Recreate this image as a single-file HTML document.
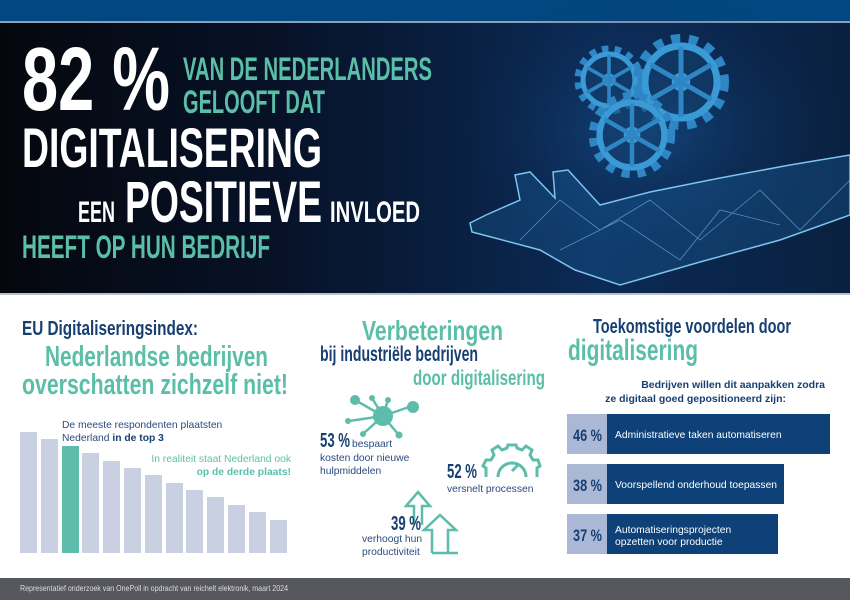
<!DOCTYPE html>
<html><head><meta charset="utf-8"><style>
html,body{margin:0;padding:0;background:#fff;}
svg{display:block;}
</style></head><body>
<svg width="850" height="600" viewBox="0 0 850 600" xmlns="http://www.w3.org/2000/svg" font-family="Liberation Sans, sans-serif">
<defs>
<linearGradient id="bg" x1="0" y1="0" x2="1" y2="0">
<stop offset="0" stop-color="#05070d"/><stop offset="0.35" stop-color="#07132a"/><stop offset="0.7" stop-color="#0b2a55"/><stop offset="1" stop-color="#0a2040"/>
</linearGradient>
<radialGradient id="glow" cx="0.5" cy="0.5" r="0.5">
<stop offset="0" stop-color="#1a5fa0" stop-opacity="0.5"/><stop offset="1" stop-color="#0b2a55" stop-opacity="0"/>
</radialGradient>
<g id="gear">
<circle r="0.8" fill="#14406e" fill-opacity="0.5"/>
<circle r="0.86" fill="none" stroke="#2f86c4" stroke-width="0.2" stroke-dasharray="0.18 0.17"/>
<circle r="0.72" fill="none" stroke="#3a9ad6" stroke-width="0.14"/>
<circle r="0.14" fill="none" stroke="#3a9ad6" stroke-width="0.09"/>
<g stroke="#2f86c4" stroke-width="0.1">
<line x1="0" y1="-0.7" x2="0" y2="0.7"/><line x1="-0.61" y1="-0.35" x2="0.61" y2="0.35"/><line x1="-0.61" y1="0.35" x2="0.61" y2="-0.35"/>
</g>
</g>
</defs>
<rect x="0" y="0" width="850" height="21" fill="#02477f"/>
<rect x="0" y="21" width="850" height="2" fill="#8aa0b8"/>
<rect x="0" y="23" width="850" height="271" fill="url(#bg)"/>
<ellipse cx="650" cy="130" rx="200" ry="140" fill="url(#glow)"/>
<use href="#gear" transform="translate(609,80) scale(36)"/>
<use href="#gear" transform="translate(681,82) scale(50)"/>
<use href="#gear" transform="translate(632,135) scale(45)"/>
<path d="M470,223 L486,215 L520,200 L515,175 L530,172 L555,198 L553,172 L568,170 L600,205 L650,192 L720,178 L790,165 L850,155 L850,215 L780,240 L700,262 L620,285 L575,270 L540,250 L495,238 L472,232 Z" fill="#1d6aa8" fill-opacity="0.3" stroke="#7cc4ee" stroke-width="1.5"/>
<path d="M520,240 L560,200 L600,230 L650,200 L700,240 L760,190 L800,230 L850,180 M560,250 L620,220 L680,260 L720,210 L780,225" fill="none" stroke="#7cc8f0" stroke-width="0.8" stroke-opacity="0.6"/>
<rect x="0" y="293" width="850" height="2" fill="#b8c0cc"/>

<g font-weight="bold">
<text x="22" y="110" font-size="90" fill="#fff" textLength="148" lengthAdjust="spacingAndGlyphs">82 %</text>
<text x="183" y="80" font-size="32" fill="#5bbfa8" textLength="249" lengthAdjust="spacingAndGlyphs">VAN DE NEDERLANDERS</text>
<text x="183" y="113" font-size="32" fill="#5bbfa8" textLength="142" lengthAdjust="spacingAndGlyphs">GELOOFT DAT</text>
<text x="22" y="167" font-size="56" fill="#fff" textLength="300" lengthAdjust="spacingAndGlyphs">DIGITALISERING</text>
<text x="78" y="222" font-size="30" fill="#fff" textLength="37" lengthAdjust="spacingAndGlyphs">EEN</text>
<text x="125" y="222" font-size="58" fill="#fff" textLength="197" lengthAdjust="spacingAndGlyphs">POSITIEVE</text>
<text x="330" y="222" font-size="30" fill="#fff" textLength="90" lengthAdjust="spacingAndGlyphs">INVLOED</text>
<text x="22" y="258" font-size="32" fill="#5bbfa8" textLength="248" lengthAdjust="spacingAndGlyphs">HEEFT OP HUN BEDRIJF</text>

<text x="22" y="335" font-size="20" fill="#173f72" textLength="176" lengthAdjust="spacingAndGlyphs">EU Digitaliseringsindex:</text>
<text x="45" y="366" font-size="29" fill="#5bbfa8" textLength="223" lengthAdjust="spacingAndGlyphs">Nederlandse bedrijven</text>
<text x="22" y="394" font-size="29" fill="#5bbfa8" textLength="266" lengthAdjust="spacingAndGlyphs">overschatten zichzelf niet!</text>

<text x="362" y="340" font-size="28" fill="#5bbfa8" textLength="141" lengthAdjust="spacingAndGlyphs">Verbeteringen</text>
<text x="320" y="361" font-size="21" fill="#173f72" textLength="158" lengthAdjust="spacingAndGlyphs">bij industriële bedrijven</text>
<text x="413" y="385" font-size="21" fill="#5bbfa8" textLength="132" lengthAdjust="spacingAndGlyphs">door digitalisering</text>

<text x="593" y="333" font-size="20" fill="#173f72" textLength="198" lengthAdjust="spacingAndGlyphs">Toekomstige voordelen door</text>
<text x="568" y="360" font-size="30" fill="#5bbfa8" textLength="130" lengthAdjust="spacingAndGlyphs">digitalisering</text>
</g>

<g fill="#c8d0e2">
<rect x="20" y="432" width="17" height="121"/>
<rect x="41" y="439" width="17" height="114"/>
<rect x="62" y="446" width="17" height="107" fill="#5dbcaa"/>
<rect x="82" y="453" width="17" height="100"/>
<rect x="103" y="461" width="17" height="92"/>
<rect x="124" y="468" width="17" height="85"/>
<rect x="145" y="475" width="17" height="78"/>
<rect x="166" y="483" width="17" height="70"/>
<rect x="186" y="490" width="17" height="63"/>
<rect x="207" y="497" width="17" height="56"/>
<rect x="228" y="505" width="17" height="48"/>
<rect x="249" y="512" width="17" height="41"/>
<rect x="270" y="520" width="17" height="33"/>
</g>
<g font-size="10.3" fill="#2a4a7f">
<text x="62" y="428">De meeste respondenten plaatsten</text>
<text x="62" y="441">Nederland <tspan font-weight="bold" fill="#173f72">in de top 3</tspan></text>
</g>
<g font-size="10.3" fill="#5bbfa8" text-anchor="end">
<text x="291" y="462">In realiteit staat Nederland ook</text>
<text x="291" y="475" font-weight="bold">op de derde plaats!</text>
</g>

<g stroke="#5dbcaa" stroke-width="2.5" fill="#5dbcaa">
<line x1="383" y1="416" x2="355" y2="400"/><line x1="383" y1="416" x2="412" y2="406"/>
<line x1="383" y1="416" x2="372" y2="398"/><line x1="383" y1="416" x2="388" y2="400"/>
<line x1="383" y1="416" x2="349" y2="421"/><line x1="383" y1="416" x2="364" y2="433"/>
<line x1="383" y1="416" x2="398" y2="434"/>
<circle cx="383" cy="416" r="10" stroke="none"/>
<circle cx="355" cy="400" r="5" stroke="none"/><circle cx="413" cy="407" r="6" stroke="none"/>
<circle cx="372" cy="398" r="3" stroke="none"/><circle cx="388" cy="400" r="3" stroke="none"/>
<circle cx="348" cy="421" r="3" stroke="none"/><circle cx="363" cy="434" r="3" stroke="none"/>
<circle cx="399" cy="435" r="3.5" stroke="none"/>
</g>
<text x="320" y="447" font-size="20" font-weight="bold" fill="#173f72" textLength="30" lengthAdjust="spacingAndGlyphs">53 %</text>
<g font-size="10.3" fill="#2a4a7f">
<text x="352" y="447">bespaart</text>
<text x="320" y="461">kosten door nieuwe</text>
<text x="320" y="474">hulpmiddelen</text>
</g>
<g fill="none" stroke="#5dbcaa" stroke-width="3">
<path d="M486,477 L486,468 L483,466 L486,460 L491,460 L494,455 L492,450 L498,446 L502,450 L507,448 L508,445 L516,445 L517,448 L522,450 L526,446 L532,450 L530,455 L533,460 L538,460 L540,466 L537,468 L537,477"/>
<path d="M498,477 A14,14 0 1 1 526,477"/>
<line x1="512" y1="471" x2="519" y2="464"/>
</g>
<text x="447" y="478" font-size="20" font-weight="bold" fill="#173f72" textLength="30" lengthAdjust="spacingAndGlyphs">52 %</text>
<text x="447" y="492" font-size="10.3" fill="#2a4a7f">versnelt processen</text>
<g fill="none" stroke="#5dbcaa" stroke-width="2.5">
<path d="M414,525 L414,506 L406,506 L418,492 L430,506 L422,506 L422,525"/>
<path d="M432,553 L432,530 L424,530 L440,515 L456,530 L448,530 L448,553"/>
<line x1="432" y1="553" x2="458" y2="553"/>
</g>
<text x="391" y="530" font-size="20" font-weight="bold" fill="#173f72" textLength="30" lengthAdjust="spacingAndGlyphs">39 %</text>
<g font-size="10.3" fill="#2a4a7f">
<text x="362" y="542">verhoogt hun</text>
<text x="362" y="555">productiviteit</text>
</g>

<g font-size="10.5" font-weight="bold" fill="#173f72" text-anchor="end">
<text x="825" y="388">Bedrijven willen dit aanpakken zodra</text>
<text x="786" y="402">ze digitaal goed gepositioneerd zijn:</text>
</g>
<rect x="567" y="414" width="40" height="40" fill="#aab8d6"/><rect x="607" y="414" width="223" height="40" fill="#0d4177"/>
<rect x="567" y="464" width="40" height="40" fill="#aab8d6"/><rect x="607" y="464" width="177" height="40" fill="#0d4177"/>
<rect x="567" y="514" width="40" height="40" fill="#aab8d6"/><rect x="607" y="514" width="171" height="40" fill="#0d4177"/>
<g font-size="17" font-weight="bold" fill="#173f72">
<text x="573" y="441" textLength="29" lengthAdjust="spacingAndGlyphs">46 %</text>
<text x="573" y="491" textLength="29" lengthAdjust="spacingAndGlyphs">38 %</text>
<text x="573" y="541" textLength="29" lengthAdjust="spacingAndGlyphs">37 %</text>
</g>
<g font-size="10.3" fill="#fff">
<text x="615" y="438">Administratieve taken automatiseren</text>
<text x="615" y="488">Voorspellend onderhoud toepassen</text>
<text x="615" y="533">Automatiseringsprojecten</text>
<text x="615" y="545">opzetten voor productie</text>
</g>

<rect x="0" y="578" width="850" height="22" fill="#56575f"/>
<text x="20" y="591" font-size="8" fill="#dcdce0" textLength="268" lengthAdjust="spacingAndGlyphs">Representatief onderzoek van OnePoll in opdracht van reichelt elektronik, maart 2024</text>
</svg>
</body></html>
